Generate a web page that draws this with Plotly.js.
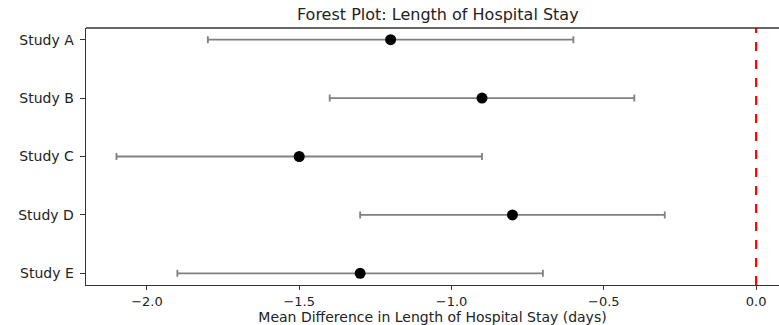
<!DOCTYPE html>
<html><head><meta charset="utf-8">
<script src="https://cdn.plot.ly/plotly-3.0.1.min.js"></script>
<style>html,body{margin:0;padding:0;background:#fff}</style>
</head><body>
<div id="chart" style="width:779px;height:325px"></div>
<script>
const studies = ["Study A", "Study B", "Study C", "Study D", "Study E"];
const meanDiff = [-1.2, -0.9, -1.5, -0.8, -1.3];
const ciLower = [-1.8, -1.4, -2.1, -1.3, -1.9];
const ciUpper = [-0.6, -0.4, -0.9, -0.3, -0.7];
const xTicks = [-2.0, -1.5, -1.0, -0.5, 0.0];
const xTickText = ["\u22122.0", "\u22121.5", "\u22121.0", "\u22120.5", "0.0"];

const fam = "DejaVu Sans, sans-serif";
const tickFont = {family: fam, size: 13, color: "#222"};
const trace = {
  type: "scatter", mode: "markers",
  x: meanDiff, y: studies,
  marker: {color: "black", size: 11},
  error_x: {
    type: "data", symmetric: false,
    array: meanDiff.map((m, i) => ciUpper[i] - m),
    arrayminus: meanDiff.map((m, i) => m - ciLower[i]),
    color: "#808080", thickness: 1.8, width: 3.5
  },
  hoverinfo: "x+y"
};
const layout = {
  width: 779, height: 325,
  margin: {l: 86, r: 0, t: 28, b: 40},
  paper_bgcolor: "#fff", plot_bgcolor: "#fff",
  font: tickFont,
  showlegend: false,
  title: {text: "Forest Plot: Length of Hospital Stay", x: 0.562, xanchor: "center", y: 0.955, yanchor: "middle", font: {family: fam, size: 16, color: "#222"}},
  xaxis: {
    range: [-2.2, 0.075], tickvals: xTicks, ticktext: xTickText,
    showgrid: false, zeroline: false, showline: true, mirror: false,
    linecolor: "#333", linewidth: 1.4, ticks: "outside", ticklen: 4, tickcolor: "#333",
    tickfont: tickFont,
    title: {text: "Mean Difference in Length of Hospital Stay (days)", font: {family: fam, size: 14, color: "#222"}, standoff: 3}
  },
  yaxis: {
    type: "category", categoryorder: "array", categoryarray: studies,
    range: [4.2, -0.2],
    showgrid: false, zeroline: false, showline: true,
    linecolor: "#333", linewidth: 1.4, ticks: "outside", ticklen: 5, tickcolor: "#333",
    ticklabelstandoff: 3,
    tickfont: {family: fam, size: 14, color: "#222"}
  },
  shapes: [
    {type: "line", xref: "x", yref: "paper", x0: 0, x1: 0, y0: 0, y1: 1,
     line: {color: "red", width: 2.2, dash: "dash"}},
    {type: "line", xref: "paper", yref: "paper", x0: 0, x1: 1, y0: 1, y1: 1,
     line: {color: "#333", width: 1.4}}
  ]
};
Plotly.newPlot("chart", [trace], layout, {displayModeBar: false, staticPlot: true});
</script>
</body></html>
